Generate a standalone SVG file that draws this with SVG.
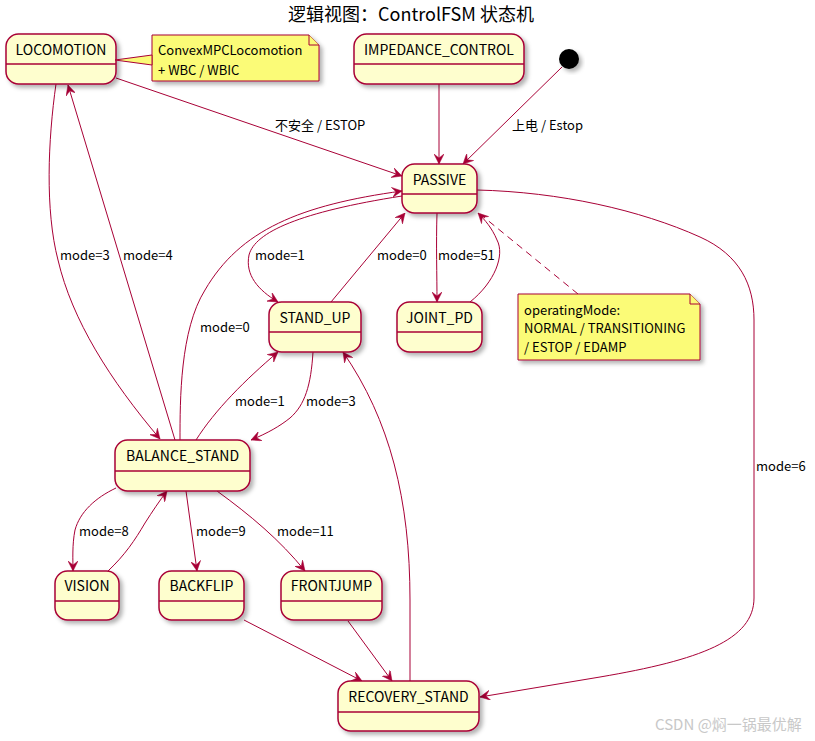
<svg xmlns="http://www.w3.org/2000/svg" width="815" height="741" viewBox="0 0 815 741">
<style>
.st rect{fill:#FEFECE;stroke:#A80036;stroke-width:1.5;}
.st line{stroke:#A80036;stroke-width:1.5;}
.nm{font-family:"Noto Sans CJK SC","Noto Sans",sans-serif;font-size:14px;fill:#000;text-anchor:middle;}
.lb{font-family:"Noto Sans CJK SC","Noto Sans",sans-serif;font-size:13px;fill:#000;}
.note path{fill:#FBFB77;stroke:#A80036;stroke-width:1;}
.e{fill:none;stroke:#A80036;stroke-width:1;}
.title{font-family:"Noto Sans CJK SC","Noto Sans",sans-serif;font-size:18px;fill:#000;text-anchor:middle;}
</style>
<defs>
<filter id="sh" x="-20%" y="-20%" width="150%" height="150%">
<feDropShadow dx="3" dy="3" stdDeviation="2" flood-color="#000" flood-opacity="0.3"/>
</filter>
<marker id="ar" viewBox="0 0 10 10" refX="10" refY="5" markerWidth="10" markerHeight="10" markerUnits="userSpaceOnUse" orient="auto">
<path d="M10,5 L0,0 L4,5 L0,10 Z" fill="#A80036" stroke="#A80036" stroke-width="0.5"/>
</marker>
</defs>
<rect width="815" height="741" fill="#fff"/>
<text class="title" x="411" y="21">逻辑视图：ControlFSM 状态机</text>

<g id="connectors">
<path class="e" marker-end="url(#ar)" d="M116,78 L402,176"/>
<path class="e" marker-end="url(#ar)" d="M562,67 L463,164"/>
<path class="e" marker-end="url(#ar)" d="M439,84 L439,164"/>
<path class="e" marker-end="url(#ar)" d="M56,84 C48,140 45,210 58,260 C72,320 110,380 160,439"/>
<path class="e" marker-end="url(#ar)" d="M175,440 L68,85"/>
<path class="e" marker-end="url(#ar)" d="M180,440 C180,400 180,330 205,290 C240,230 300,205 402,191"/>
<path class="e" marker-end="url(#ar)" d="M402,196 C300,212 255,232 249,255 C245,275 258,290 278,302"/>
<path class="e" marker-end="url(#ar)" d="M331,302 L405,213"/>
<path class="e" marker-end="url(#ar)" d="M437,213 C436,245 437,275 437,302"/>
<path class="e" marker-end="url(#ar)" d="M470,302 C495,282 505,255 497,240 C492,228 485,220 478,213"/>
<path class="e" stroke-dasharray="7,5" d="M578,294 L480,214"/>
<path class="e" marker-end="url(#ar)" d="M477,190 C560,192 640,210 700,237 C740,255 754,285 754,320 L754,598 C754,640 700,660 600,677 C560,684 520,690 480,697"/>
<path class="e" marker-end="url(#ar)" d="M196,440 C215,410 245,380 278,352"/>
<path class="e" marker-end="url(#ar)" d="M313,352 C311,385 305,405 290,418 C280,426 268,433 251,440"/>
<path class="e" marker-end="url(#ar)" d="M410,681 L410,600 C410,500 390,420 343,352"/>
<path class="e" marker-end="url(#ar)" d="M116,488 C95,498 80,512 75,530 C72,545 73,560 73,571"/>
<path class="e" marker-end="url(#ar)" d="M108,571 C125,555 135,540 145,523 C152,512 160,500 167,491"/>
<path class="e" marker-end="url(#ar)" d="M186,491 L197,571"/>
<path class="e" marker-end="url(#ar)" d="M217,491 C250,515 280,540 305,571"/>
<path class="e" marker-end="url(#ar)" d="M244,620 L362,681"/>
<path class="e" marker-end="url(#ar)" d="M348,621 L392,681"/>
<text class="lb" x="275" y="130">不安全 / ESTOP</text>
<text class="lb" x="512" y="130">上电 / Estop</text>
<text class="lb" x="60" y="260">mode=3</text>
<text class="lb" x="123" y="260">mode=4</text>
<text class="lb" x="200" y="332">mode=0</text>
<text class="lb" x="255" y="260">mode=1</text>
<text class="lb" x="377" y="260">mode=0</text>
<text class="lb" x="438" y="260">mode=51</text>
<text class="lb" x="756" y="471">mode=6</text>
<text class="lb" x="235" y="406">mode=1</text>
<text class="lb" x="306" y="406">mode=3</text>
<text class="lb" x="79" y="536">mode=8</text>
<text class="lb" x="196" y="536">mode=9</text>
<text class="lb" x="277" y="536">mode=11</text>
</g>

<g id="LOCOMOTION" class="st"><rect x="6" y="34" width="110" height="50" rx="12.5" filter="url(#sh)"/><line x1="6" y1="64" x2="116" y2="64"/><text class="nm" x="61" y="55">LOCOMOTION</text></g>
<g id="note1" class="note"><path d="M152,35 H309 L319,45 V81 H152 Z" filter="url(#sh)"/><path d="M115,60 L152,55 L152,65 Z"/><path d="M309,35 V45 H319" fill="none"/><text class="lb" x="158" y="55">ConvexMPCLocomotion</text><text class="lb" x="158" y="75">+ WBC / WBIC</text></g>
<g id="IMPEDANCE_CONTROL" class="st"><rect x="354" y="34" width="170" height="50" rx="12.5" filter="url(#sh)"/><line x1="354" y1="64" x2="524" y2="64"/><text class="nm" x="439" y="55">IMPEDANCE_CONTROL</text></g>
<g id="initial"><circle cx="569" cy="59" r="10" fill="#000" filter="url(#sh)"/></g>
<g id="PASSIVE" class="st"><rect x="402" y="164" width="75" height="49" rx="12.5" filter="url(#sh)"/><line x1="402" y1="194" x2="477" y2="194"/><text class="nm" x="439.5" y="185">PASSIVE</text></g>
<g id="STAND_UP" class="st"><rect x="269" y="302" width="92" height="50" rx="12.5" filter="url(#sh)"/><line x1="269" y1="332" x2="361" y2="332"/><text class="nm" x="315" y="323">STAND_UP</text></g>
<g id="JOINT_PD" class="st"><rect x="397" y="302" width="85" height="50" rx="12.5" filter="url(#sh)"/><line x1="397" y1="332" x2="482" y2="332"/><text class="nm" x="439.5" y="323">JOINT_PD</text></g>
<g id="note2" class="note"><path d="M518,294 H690 L700,304 V360 H518 Z" filter="url(#sh)"/><path d="M690,294 V304 H700" fill="none"/><text class="lb" x="524" y="315">operatingMode:</text><text class="lb" x="524" y="333">NORMAL / TRANSITIONING</text><text class="lb" x="524" y="352">/ ESTOP / EDAMP</text></g>
<g id="BALANCE_STAND" class="st"><rect x="115" y="440" width="135" height="51" rx="12.5" filter="url(#sh)"/><line x1="115" y1="471" x2="250" y2="471"/><text class="nm" x="182.5" y="461">BALANCE_STAND</text></g>
<g id="VISION" class="st"><rect x="55" y="571" width="64" height="49" rx="12.5" filter="url(#sh)"/><line x1="55" y1="601" x2="119" y2="601"/><text class="nm" x="87" y="591">VISION</text></g>
<g id="BACKFLIP" class="st"><rect x="159" y="571" width="85" height="49" rx="12.5" filter="url(#sh)"/><line x1="159" y1="601" x2="244" y2="601"/><text class="nm" x="201.5" y="591">BACKFLIP</text></g>
<g id="FRONTJUMP" class="st"><rect x="281" y="571" width="101" height="49" rx="12.5" filter="url(#sh)"/><line x1="281" y1="601" x2="382" y2="601"/><text class="nm" x="331.5" y="591">FRONTJUMP</text></g>
<g id="RECOVERY_STAND" class="st"><rect x="338" y="681" width="141" height="50" rx="12.5" filter="url(#sh)"/><line x1="338" y1="712" x2="479" y2="712"/><text class="nm" x="408.5" y="702">RECOVERY_STAND</text></g>
<text x="655" y="730" font-family="'Noto Sans CJK SC','Noto Sans',sans-serif" font-size="15" fill="#c8c8c8">CSDN @焖一锅最优解</text>
</svg>
